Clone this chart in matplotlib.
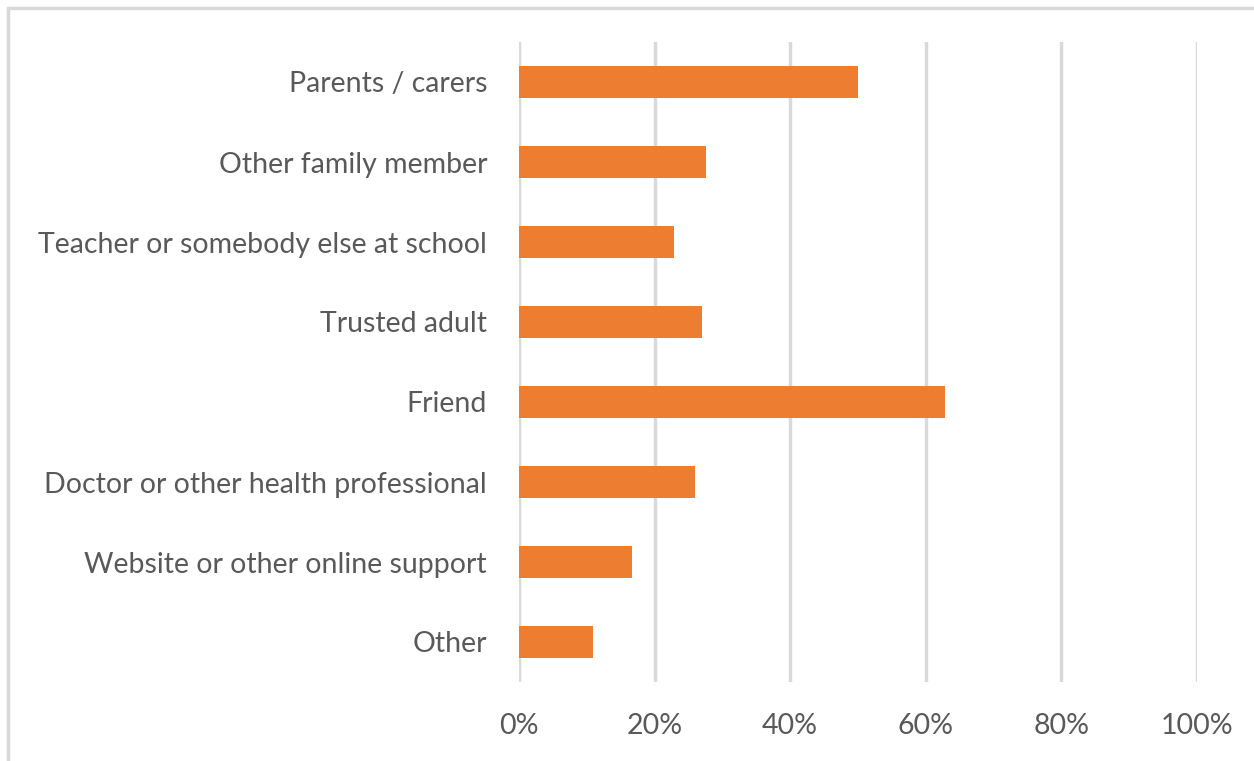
import matplotlib.pyplot as plt
from matplotlib.patches import Rectangle
from matplotlib.ticker import FuncFormatter

categories = [
    "Parents / carers",
    "Other family member",
    "Teacher or somebody else at school",
    "Trusted adult",
    "Friend",
    "Doctor or other health professional",
    "Website or other online support",
    "Other",
]
shares = [50, 27.6, 22.9, 27.0, 62.8, 26.0, 16.7, 10.9]
x_ticks = [0, 20, 40, 60, 80, 100]

plt.rcParams['font.family'] = ['Lato', 'DejaVu Sans']

W, H = 1254, 761
fig = plt.figure(figsize=(W / 100, H / 100), dpi=100)
ax = fig.add_axes([519 / W, 1 - 682 / H, (1197 - 519) / W, (682 - 42) / H])

# chart frame, only top and left edges fall inside the canvas
fig.patches.append(Rectangle((8 / W, -0.1), 1.2, 1 - 8 / H + 0.1, transform=fig.transFigure,
                             fill=False, edgecolor='#d9d9d9', linewidth=2.5))

ypos = list(range(len(categories)))
ax.barh(ypos, shares, height=0.4, color='#ED7D31', zorder=3)

ax.set_ylim(len(categories) - 0.5, -0.5)
ax.set_xlim(0, 100)
ax.set_yticks(ypos)
ax.set_yticklabels(categories)
ax.set_xticks(x_ticks)
ax.xaxis.set_major_formatter(FuncFormatter(lambda v, p: f"{v:.0f}%"))

ax.grid(axis='x', color='#d9d9d9', linewidth=2.5, zorder=0)
for s in ax.spines.values():
    s.set_visible(False)
ax.tick_params(length=0, colors='#595959', labelsize=20.5)
ax.tick_params(axis='y', pad=23)
ax.tick_params(axis='x', pad=22)

fig.savefig("out.png", dpi=100)
